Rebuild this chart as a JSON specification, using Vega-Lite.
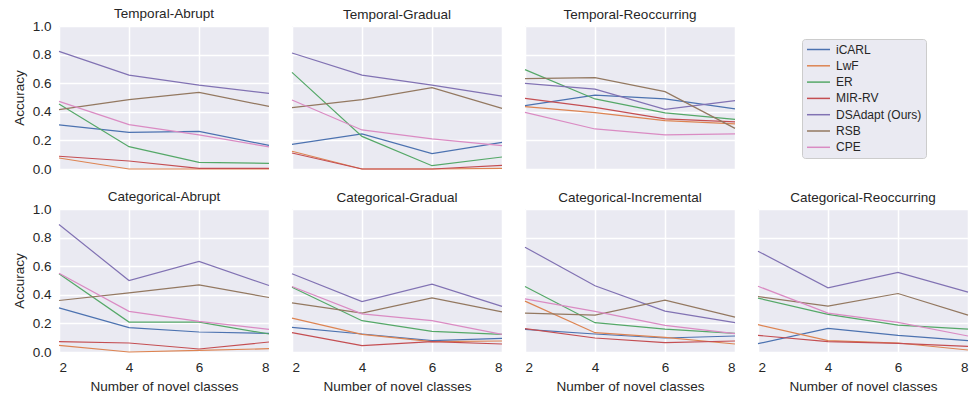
{
  "$schema": "https://vega.github.io/schema/vega-lite/v6.json",
  "padding": {"left": 12, "top": 6, "right": 0, "bottom": 5},
  "background": "white",
  "datasets": {
    "acc": [
      {"panel": "Temporal-Abrupt", "method": "iCARL", "x": 2, "acc": 0.308}, {"panel": "Temporal-Abrupt", "method": "iCARL", "x": 4, "acc": 0.256}, {"panel": "Temporal-Abrupt", "method": "iCARL", "x": 6, "acc": 0.263}, {"panel": "Temporal-Abrupt", "method": "iCARL", "x": 8, "acc": 0.165},
      {"panel": "Temporal-Abrupt", "method": "LwF", "x": 2, "acc": 0.077}, {"panel": "Temporal-Abrupt", "method": "LwF", "x": 4, "acc": 0.0}, {"panel": "Temporal-Abrupt", "method": "LwF", "x": 6, "acc": 0.0}, {"panel": "Temporal-Abrupt", "method": "LwF", "x": 8, "acc": 0.0},
      {"panel": "Temporal-Abrupt", "method": "ER", "x": 2, "acc": 0.455}, {"panel": "Temporal-Abrupt", "method": "ER", "x": 4, "acc": 0.156}, {"panel": "Temporal-Abrupt", "method": "ER", "x": 6, "acc": 0.047}, {"panel": "Temporal-Abrupt", "method": "ER", "x": 8, "acc": 0.04},
      {"panel": "Temporal-Abrupt", "method": "MIR-RV", "x": 2, "acc": 0.089}, {"panel": "Temporal-Abrupt", "method": "MIR-RV", "x": 4, "acc": 0.056}, {"panel": "Temporal-Abrupt", "method": "MIR-RV", "x": 6, "acc": 0.005}, {"panel": "Temporal-Abrupt", "method": "MIR-RV", "x": 8, "acc": 0.004},
      {"panel": "Temporal-Abrupt", "method": "DSAdapt (Ours)", "x": 2, "acc": 0.823}, {"panel": "Temporal-Abrupt", "method": "DSAdapt (Ours)", "x": 4, "acc": 0.657}, {"panel": "Temporal-Abrupt", "method": "DSAdapt (Ours)", "x": 6, "acc": 0.587}, {"panel": "Temporal-Abrupt", "method": "DSAdapt (Ours)", "x": 8, "acc": 0.529},
      {"panel": "Temporal-Abrupt", "method": "RSB", "x": 2, "acc": 0.415}, {"panel": "Temporal-Abrupt", "method": "RSB", "x": 4, "acc": 0.485}, {"panel": "Temporal-Abrupt", "method": "RSB", "x": 6, "acc": 0.536}, {"panel": "Temporal-Abrupt", "method": "RSB", "x": 8, "acc": 0.438},
      {"panel": "Temporal-Abrupt", "method": "CPE", "x": 2, "acc": 0.473}, {"panel": "Temporal-Abrupt", "method": "CPE", "x": 4, "acc": 0.31}, {"panel": "Temporal-Abrupt", "method": "CPE", "x": 6, "acc": 0.238}, {"panel": "Temporal-Abrupt", "method": "CPE", "x": 8, "acc": 0.155},

      {"panel": "Temporal-Gradual", "method": "iCARL", "x": 2, "acc": 0.172}, {"panel": "Temporal-Gradual", "method": "iCARL", "x": 4, "acc": 0.245}, {"panel": "Temporal-Gradual", "method": "iCARL", "x": 6, "acc": 0.107}, {"panel": "Temporal-Gradual", "method": "iCARL", "x": 8, "acc": 0.186},
      {"panel": "Temporal-Gradual", "method": "LwF", "x": 2, "acc": 0.124}, {"panel": "Temporal-Gradual", "method": "LwF", "x": 4, "acc": 0.0}, {"panel": "Temporal-Gradual", "method": "LwF", "x": 6, "acc": 0.0}, {"panel": "Temporal-Gradual", "method": "LwF", "x": 8, "acc": 0.005},
      {"panel": "Temporal-Gradual", "method": "ER", "x": 2, "acc": 0.676}, {"panel": "Temporal-Gradual", "method": "ER", "x": 4, "acc": 0.228}, {"panel": "Temporal-Gradual", "method": "ER", "x": 6, "acc": 0.023}, {"panel": "Temporal-Gradual", "method": "ER", "x": 8, "acc": 0.084},
      {"panel": "Temporal-Gradual", "method": "MIR-RV", "x": 2, "acc": 0.112}, {"panel": "Temporal-Gradual", "method": "MIR-RV", "x": 4, "acc": 0.0}, {"panel": "Temporal-Gradual", "method": "MIR-RV", "x": 6, "acc": 0.0}, {"panel": "Temporal-Gradual", "method": "MIR-RV", "x": 8, "acc": 0.026},
      {"panel": "Temporal-Gradual", "method": "DSAdapt (Ours)", "x": 2, "acc": 0.811}, {"panel": "Temporal-Gradual", "method": "DSAdapt (Ours)", "x": 4, "acc": 0.657}, {"panel": "Temporal-Gradual", "method": "DSAdapt (Ours)", "x": 6, "acc": 0.587}, {"panel": "Temporal-Gradual", "method": "DSAdapt (Ours)", "x": 8, "acc": 0.51},
      {"panel": "Temporal-Gradual", "method": "RSB", "x": 2, "acc": 0.429}, {"panel": "Temporal-Gradual", "method": "RSB", "x": 4, "acc": 0.485}, {"panel": "Temporal-Gradual", "method": "RSB", "x": 6, "acc": 0.569}, {"panel": "Temporal-Gradual", "method": "RSB", "x": 8, "acc": 0.424},
      {"panel": "Temporal-Gradual", "method": "CPE", "x": 2, "acc": 0.483}, {"panel": "Temporal-Gradual", "method": "CPE", "x": 4, "acc": 0.273}, {"panel": "Temporal-Gradual", "method": "CPE", "x": 6, "acc": 0.21}, {"panel": "Temporal-Gradual", "method": "CPE", "x": 8, "acc": 0.163},

      {"panel": "Temporal-Reoccurring", "method": "iCARL", "x": 2, "acc": 0.443}, {"panel": "Temporal-Reoccurring", "method": "iCARL", "x": 4, "acc": 0.517}, {"panel": "Temporal-Reoccurring", "method": "iCARL", "x": 6, "acc": 0.49}, {"panel": "Temporal-Reoccurring", "method": "iCARL", "x": 8, "acc": 0.42},
      {"panel": "Temporal-Reoccurring", "method": "LwF", "x": 2, "acc": 0.436}, {"panel": "Temporal-Reoccurring", "method": "LwF", "x": 4, "acc": 0.394}, {"panel": "Temporal-Reoccurring", "method": "LwF", "x": 6, "acc": 0.338}, {"panel": "Temporal-Reoccurring", "method": "LwF", "x": 8, "acc": 0.315},
      {"panel": "Temporal-Reoccurring", "method": "ER", "x": 2, "acc": 0.695}, {"panel": "Temporal-Reoccurring", "method": "ER", "x": 4, "acc": 0.49}, {"panel": "Temporal-Reoccurring", "method": "ER", "x": 6, "acc": 0.392}, {"panel": "Temporal-Reoccurring", "method": "ER", "x": 8, "acc": 0.347},
      {"panel": "Temporal-Reoccurring", "method": "MIR-RV", "x": 2, "acc": 0.494}, {"panel": "Temporal-Reoccurring", "method": "MIR-RV", "x": 4, "acc": 0.431}, {"panel": "Temporal-Reoccurring", "method": "MIR-RV", "x": 6, "acc": 0.35}, {"panel": "Temporal-Reoccurring", "method": "MIR-RV", "x": 8, "acc": 0.329},
      {"panel": "Temporal-Reoccurring", "method": "DSAdapt (Ours)", "x": 2, "acc": 0.599}, {"panel": "Temporal-Reoccurring", "method": "DSAdapt (Ours)", "x": 4, "acc": 0.559}, {"panel": "Temporal-Reoccurring", "method": "DSAdapt (Ours)", "x": 6, "acc": 0.417}, {"panel": "Temporal-Reoccurring", "method": "DSAdapt (Ours)", "x": 8, "acc": 0.478},
      {"panel": "Temporal-Reoccurring", "method": "RSB", "x": 2, "acc": 0.632}, {"panel": "Temporal-Reoccurring", "method": "RSB", "x": 4, "acc": 0.639}, {"panel": "Temporal-Reoccurring", "method": "RSB", "x": 6, "acc": 0.541}, {"panel": "Temporal-Reoccurring", "method": "RSB", "x": 8, "acc": 0.284},
      {"panel": "Temporal-Reoccurring", "method": "CPE", "x": 2, "acc": 0.396}, {"panel": "Temporal-Reoccurring", "method": "CPE", "x": 4, "acc": 0.28}, {"panel": "Temporal-Reoccurring", "method": "CPE", "x": 6, "acc": 0.238}, {"panel": "Temporal-Reoccurring", "method": "CPE", "x": 8, "acc": 0.245},

      {"panel": "Categorical-Abrupt", "method": "iCARL", "x": 2, "acc": 0.309}, {"panel": "Categorical-Abrupt", "method": "iCARL", "x": 4, "acc": 0.17}, {"panel": "Categorical-Abrupt", "method": "iCARL", "x": 6, "acc": 0.14}, {"panel": "Categorical-Abrupt", "method": "iCARL", "x": 8, "acc": 0.13},
      {"panel": "Categorical-Abrupt", "method": "LwF", "x": 2, "acc": 0.047}, {"panel": "Categorical-Abrupt", "method": "LwF", "x": 4, "acc": 0.0}, {"panel": "Categorical-Abrupt", "method": "LwF", "x": 6, "acc": 0.012}, {"panel": "Categorical-Abrupt", "method": "LwF", "x": 8, "acc": 0.023},
      {"panel": "Categorical-Abrupt", "method": "ER", "x": 2, "acc": 0.547}, {"panel": "Categorical-Abrupt", "method": "ER", "x": 4, "acc": 0.209}, {"panel": "Categorical-Abrupt", "method": "ER", "x": 6, "acc": 0.209}, {"panel": "Categorical-Abrupt", "method": "ER", "x": 8, "acc": 0.126},
      {"panel": "Categorical-Abrupt", "method": "MIR-RV", "x": 2, "acc": 0.072}, {"panel": "Categorical-Abrupt", "method": "MIR-RV", "x": 4, "acc": 0.063}, {"panel": "Categorical-Abrupt", "method": "MIR-RV", "x": 6, "acc": 0.021}, {"panel": "Categorical-Abrupt", "method": "MIR-RV", "x": 8, "acc": 0.07},
      {"panel": "Categorical-Abrupt", "method": "DSAdapt (Ours)", "x": 2, "acc": 0.891}, {"panel": "Categorical-Abrupt", "method": "DSAdapt (Ours)", "x": 4, "acc": 0.5}, {"panel": "Categorical-Abrupt", "method": "DSAdapt (Ours)", "x": 6, "acc": 0.633}, {"panel": "Categorical-Abrupt", "method": "DSAdapt (Ours)", "x": 8, "acc": 0.465},
      {"panel": "Categorical-Abrupt", "method": "RSB", "x": 2, "acc": 0.36}, {"panel": "Categorical-Abrupt", "method": "RSB", "x": 4, "acc": 0.414}, {"panel": "Categorical-Abrupt", "method": "RSB", "x": 6, "acc": 0.47}, {"panel": "Categorical-Abrupt", "method": "RSB", "x": 8, "acc": 0.381},
      {"panel": "Categorical-Abrupt", "method": "CPE", "x": 2, "acc": 0.551}, {"panel": "Categorical-Abrupt", "method": "CPE", "x": 4, "acc": 0.284}, {"panel": "Categorical-Abrupt", "method": "CPE", "x": 6, "acc": 0.214}, {"panel": "Categorical-Abrupt", "method": "CPE", "x": 8, "acc": 0.158},

      {"panel": "Categorical-Gradual", "method": "iCARL", "x": 2, "acc": 0.172}, {"panel": "Categorical-Gradual", "method": "iCARL", "x": 4, "acc": 0.126}, {"panel": "Categorical-Gradual", "method": "iCARL", "x": 6, "acc": 0.079}, {"panel": "Categorical-Gradual", "method": "iCARL", "x": 8, "acc": 0.095},
      {"panel": "Categorical-Gradual", "method": "LwF", "x": 2, "acc": 0.237}, {"panel": "Categorical-Gradual", "method": "LwF", "x": 4, "acc": 0.123}, {"panel": "Categorical-Gradual", "method": "LwF", "x": 6, "acc": 0.072}, {"panel": "Categorical-Gradual", "method": "LwF", "x": 8, "acc": 0.077},
      {"panel": "Categorical-Gradual", "method": "ER", "x": 2, "acc": 0.453}, {"panel": "Categorical-Gradual", "method": "ER", "x": 4, "acc": 0.219}, {"panel": "Categorical-Gradual", "method": "ER", "x": 6, "acc": 0.144}, {"panel": "Categorical-Gradual", "method": "ER", "x": 8, "acc": 0.123},
      {"panel": "Categorical-Gradual", "method": "MIR-RV", "x": 2, "acc": 0.135}, {"panel": "Categorical-Gradual", "method": "MIR-RV", "x": 4, "acc": 0.044}, {"panel": "Categorical-Gradual", "method": "MIR-RV", "x": 6, "acc": 0.072}, {"panel": "Categorical-Gradual", "method": "MIR-RV", "x": 8, "acc": 0.056},
      {"panel": "Categorical-Gradual", "method": "DSAdapt (Ours)", "x": 2, "acc": 0.547}, {"panel": "Categorical-Gradual", "method": "DSAdapt (Ours)", "x": 4, "acc": 0.353}, {"panel": "Categorical-Gradual", "method": "DSAdapt (Ours)", "x": 6, "acc": 0.474}, {"panel": "Categorical-Gradual", "method": "DSAdapt (Ours)", "x": 8, "acc": 0.319},
      {"panel": "Categorical-Gradual", "method": "RSB", "x": 2, "acc": 0.344}, {"panel": "Categorical-Gradual", "method": "RSB", "x": 4, "acc": 0.272}, {"panel": "Categorical-Gradual", "method": "RSB", "x": 6, "acc": 0.379}, {"panel": "Categorical-Gradual", "method": "RSB", "x": 8, "acc": 0.281},
      {"panel": "Categorical-Gradual", "method": "CPE", "x": 2, "acc": 0.458}, {"panel": "Categorical-Gradual", "method": "CPE", "x": 4, "acc": 0.267}, {"panel": "Categorical-Gradual", "method": "CPE", "x": 6, "acc": 0.219}, {"panel": "Categorical-Gradual", "method": "CPE", "x": 8, "acc": 0.123},

      {"panel": "Categorical-Incremental", "method": "iCARL", "x": 2, "acc": 0.158}, {"panel": "Categorical-Incremental", "method": "iCARL", "x": 4, "acc": 0.126}, {"panel": "Categorical-Incremental", "method": "iCARL", "x": 6, "acc": 0.098}, {"panel": "Categorical-Incremental", "method": "iCARL", "x": 8, "acc": 0.112},
      {"panel": "Categorical-Incremental", "method": "LwF", "x": 2, "acc": 0.356}, {"panel": "Categorical-Incremental", "method": "LwF", "x": 4, "acc": 0.135}, {"panel": "Categorical-Incremental", "method": "LwF", "x": 6, "acc": 0.102}, {"panel": "Categorical-Incremental", "method": "LwF", "x": 8, "acc": 0.056},
      {"panel": "Categorical-Incremental", "method": "ER", "x": 2, "acc": 0.458}, {"panel": "Categorical-Incremental", "method": "ER", "x": 4, "acc": 0.205}, {"panel": "Categorical-Incremental", "method": "ER", "x": 6, "acc": 0.16}, {"panel": "Categorical-Incremental", "method": "ER", "x": 8, "acc": 0.13},
      {"panel": "Categorical-Incremental", "method": "MIR-RV", "x": 2, "acc": 0.163}, {"panel": "Categorical-Incremental", "method": "MIR-RV", "x": 4, "acc": 0.098}, {"panel": "Categorical-Incremental", "method": "MIR-RV", "x": 6, "acc": 0.065}, {"panel": "Categorical-Incremental", "method": "MIR-RV", "x": 8, "acc": 0.077},
      {"panel": "Categorical-Incremental", "method": "DSAdapt (Ours)", "x": 2, "acc": 0.733}, {"panel": "Categorical-Incremental", "method": "DSAdapt (Ours)", "x": 4, "acc": 0.463}, {"panel": "Categorical-Incremental", "method": "DSAdapt (Ours)", "x": 6, "acc": 0.286}, {"panel": "Categorical-Incremental", "method": "DSAdapt (Ours)", "x": 8, "acc": 0.205},
      {"panel": "Categorical-Incremental", "method": "RSB", "x": 2, "acc": 0.272}, {"panel": "Categorical-Incremental", "method": "RSB", "x": 4, "acc": 0.258}, {"panel": "Categorical-Incremental", "method": "RSB", "x": 6, "acc": 0.363}, {"panel": "Categorical-Incremental", "method": "RSB", "x": 8, "acc": 0.244},
      {"panel": "Categorical-Incremental", "method": "CPE", "x": 2, "acc": 0.372}, {"panel": "Categorical-Incremental", "method": "CPE", "x": 4, "acc": 0.284}, {"panel": "Categorical-Incremental", "method": "CPE", "x": 6, "acc": 0.186}, {"panel": "Categorical-Incremental", "method": "CPE", "x": 8, "acc": 0.128},

      {"panel": "Categorical-Reoccurring", "method": "iCARL", "x": 2, "acc": 0.058}, {"panel": "Categorical-Reoccurring", "method": "iCARL", "x": 4, "acc": 0.165}, {"panel": "Categorical-Reoccurring", "method": "iCARL", "x": 6, "acc": 0.116}, {"panel": "Categorical-Reoccurring", "method": "iCARL", "x": 8, "acc": 0.079},
      {"panel": "Categorical-Reoccurring", "method": "LwF", "x": 2, "acc": 0.191}, {"panel": "Categorical-Reoccurring", "method": "LwF", "x": 4, "acc": 0.079}, {"panel": "Categorical-Reoccurring", "method": "LwF", "x": 6, "acc": 0.063}, {"panel": "Categorical-Reoccurring", "method": "LwF", "x": 8, "acc": 0.014},
      {"panel": "Categorical-Reoccurring", "method": "ER", "x": 2, "acc": 0.377}, {"panel": "Categorical-Reoccurring", "method": "ER", "x": 4, "acc": 0.263}, {"panel": "Categorical-Reoccurring", "method": "ER", "x": 6, "acc": 0.188}, {"panel": "Categorical-Reoccurring", "method": "ER", "x": 8, "acc": 0.16},
      {"panel": "Categorical-Reoccurring", "method": "MIR-RV", "x": 2, "acc": 0.116}, {"panel": "Categorical-Reoccurring", "method": "MIR-RV", "x": 4, "acc": 0.072}, {"panel": "Categorical-Reoccurring", "method": "MIR-RV", "x": 6, "acc": 0.06}, {"panel": "Categorical-Reoccurring", "method": "MIR-RV", "x": 8, "acc": 0.04},
      {"panel": "Categorical-Reoccurring", "method": "DSAdapt (Ours)", "x": 2, "acc": 0.705}, {"panel": "Categorical-Reoccurring", "method": "DSAdapt (Ours)", "x": 4, "acc": 0.449}, {"panel": "Categorical-Reoccurring", "method": "DSAdapt (Ours)", "x": 6, "acc": 0.556}, {"panel": "Categorical-Reoccurring", "method": "DSAdapt (Ours)", "x": 8, "acc": 0.419},
      {"panel": "Categorical-Reoccurring", "method": "RSB", "x": 2, "acc": 0.388}, {"panel": "Categorical-Reoccurring", "method": "RSB", "x": 4, "acc": 0.321}, {"panel": "Categorical-Reoccurring", "method": "RSB", "x": 6, "acc": 0.409}, {"panel": "Categorical-Reoccurring", "method": "RSB", "x": 8, "acc": 0.258},
      {"panel": "Categorical-Reoccurring", "method": "CPE", "x": 2, "acc": 0.46}, {"panel": "Categorical-Reoccurring", "method": "CPE", "x": 4, "acc": 0.272}, {"panel": "Categorical-Reoccurring", "method": "CPE", "x": 6, "acc": 0.207}, {"panel": "Categorical-Reoccurring", "method": "CPE", "x": 8, "acc": 0.112}
    ]
  },
  "data": {"name": "acc"},
  "bounds": "flush",
  "spacing": {"row": 40, "column": 23},
  "columns": 4,
  "resolve": {"scale": {"x": "independent", "y": "independent", "color": "shared"}},
  "concat": [
    {
      "title": {"text": "Temporal-Abrupt", "offset": -1}, "width": 210, "height": 143,
      "transform": [{"filter": "datum.panel === 'Temporal-Abrupt'"}],
      "mark": {"type": "line", "strokeWidth": 1.2},
      "encoding": {
        "x": {"field": "x", "type": "quantitative", "scale": {"domain": [2, 8], "nice": false, "zero": false}, "axis": {"values": [2, 4, 6, 8], "labels": false, "title": null}},
        "y": {"field": "acc", "type": "quantitative", "scale": {"domain": [0, 1], "nice": false}, "axis": {"values": [0, 0.2, 0.4, 0.6, 0.8, 1], "format": ".1f", "title": "Accuracy"}},
        "color": {"field": "method", "type": "nominal", "scale": {"domain": ["iCARL", "LwF", "ER", "MIR-RV", "DSAdapt (Ours)", "RSB", "CPE"], "range": ["#4C72B0", "#DD8452", "#55A868", "#C44E52", "#8172B3", "#937860", "#DA8BC3"]}, "legend": {"title": null}}
      }
    },
    {
      "title": {"text": "Temporal-Gradual", "offset": 5}, "width": 210, "height": 143,
      "transform": [{"filter": "datum.panel === 'Temporal-Gradual'"}],
      "mark": {"type": "line", "strokeWidth": 1.2},
      "encoding": {
        "x": {"field": "x", "type": "quantitative", "scale": {"domain": [2, 8], "nice": false, "zero": false}, "axis": {"values": [2, 4, 6, 8], "labels": false, "title": null}},
        "y": {"field": "acc", "type": "quantitative", "scale": {"domain": [0, 1], "nice": false}, "axis": {"values": [0, 0.2, 0.4, 0.6, 0.8, 1], "labels": false, "title": null}},
        "color": {"field": "method", "type": "nominal", "scale": {"domain": ["iCARL", "LwF", "ER", "MIR-RV", "DSAdapt (Ours)", "RSB", "CPE"], "range": ["#4C72B0", "#DD8452", "#55A868", "#C44E52", "#8172B3", "#937860", "#DA8BC3"]}, "legend": {"title": null}}
      }
    },
    {
      "title": {"text": "Temporal-Reoccurring", "offset": 5}, "width": 210, "height": 143,
      "transform": [{"filter": "datum.panel === 'Temporal-Reoccurring'"}],
      "mark": {"type": "line", "strokeWidth": 1.2},
      "encoding": {
        "x": {"field": "x", "type": "quantitative", "scale": {"domain": [2, 8], "nice": false, "zero": false}, "axis": {"values": [2, 4, 6, 8], "labels": false, "title": null}},
        "y": {"field": "acc", "type": "quantitative", "scale": {"domain": [0, 1], "nice": false}, "axis": {"values": [0, 0.2, 0.4, 0.6, 0.8, 1], "labels": false, "title": null}},
        "color": {"field": "method", "type": "nominal", "scale": {"domain": ["iCARL", "LwF", "ER", "MIR-RV", "DSAdapt (Ours)", "RSB", "CPE"], "range": ["#4C72B0", "#DD8452", "#55A868", "#C44E52", "#8172B3", "#937860", "#DA8BC3"]}, "legend": {"title": null}}
      }
    },
    {
      "width": 210, "height": 143,
      "view": {"fill": null, "stroke": null},
      "transform": [{"filter": "datum.panel === 'none'"}],
      "mark": {"type": "line", "strokeWidth": 1.2},
      "encoding": {
        "x": {"field": "x", "type": "quantitative", "scale": {"domain": [2, 8]}, "axis": null},
        "y": {"field": "acc", "type": "quantitative", "scale": {"domain": [0, 1]}, "axis": null},
        "color": {"field": "method", "type": "nominal", "scale": {"domain": ["iCARL", "LwF", "ER", "MIR-RV", "DSAdapt (Ours)", "RSB", "CPE"], "range": ["#4C72B0", "#DD8452", "#55A868", "#C44E52", "#8172B3", "#937860", "#DA8BC3"]}, "legend": {"title": null}}
      }
    },
    {
      "title": {"text": "Categorical-Abrupt", "offset": -1}, "width": 210, "height": 143,
      "transform": [{"filter": "datum.panel === 'Categorical-Abrupt'"}],
      "mark": {"type": "line", "strokeWidth": 1.2},
      "encoding": {
        "x": {"field": "x", "type": "quantitative", "scale": {"domain": [2, 8], "nice": false, "zero": false}, "axis": {"values": [2, 4, 6, 8], "title": "Number of novel classes"}},
        "y": {"field": "acc", "type": "quantitative", "scale": {"domain": [0, 1], "nice": false}, "axis": {"values": [0, 0.2, 0.4, 0.6, 0.8, 1], "format": ".1f", "title": "Accuracy"}},
        "color": {"field": "method", "type": "nominal", "scale": {"domain": ["iCARL", "LwF", "ER", "MIR-RV", "DSAdapt (Ours)", "RSB", "CPE"], "range": ["#4C72B0", "#DD8452", "#55A868", "#C44E52", "#8172B3", "#937860", "#DA8BC3"]}, "legend": {"title": null}}
      }
    },
    {
      "title": {"text": "Categorical-Gradual", "offset": 5}, "width": 210, "height": 143,
      "transform": [{"filter": "datum.panel === 'Categorical-Gradual'"}],
      "mark": {"type": "line", "strokeWidth": 1.2},
      "encoding": {
        "x": {"field": "x", "type": "quantitative", "scale": {"domain": [2, 8], "nice": false, "zero": false}, "axis": {"values": [2, 4, 6, 8], "title": "Number of novel classes"}},
        "y": {"field": "acc", "type": "quantitative", "scale": {"domain": [0, 1], "nice": false}, "axis": {"values": [0, 0.2, 0.4, 0.6, 0.8, 1], "labels": false, "title": null}},
        "color": {"field": "method", "type": "nominal", "scale": {"domain": ["iCARL", "LwF", "ER", "MIR-RV", "DSAdapt (Ours)", "RSB", "CPE"], "range": ["#4C72B0", "#DD8452", "#55A868", "#C44E52", "#8172B3", "#937860", "#DA8BC3"]}, "legend": {"title": null}}
      }
    },
    {
      "title": {"text": "Categorical-Incremental", "offset": 5}, "width": 210, "height": 143,
      "transform": [{"filter": "datum.panel === 'Categorical-Incremental'"}],
      "mark": {"type": "line", "strokeWidth": 1.2},
      "encoding": {
        "x": {"field": "x", "type": "quantitative", "scale": {"domain": [2, 8], "nice": false, "zero": false}, "axis": {"values": [2, 4, 6, 8], "title": "Number of novel classes"}},
        "y": {"field": "acc", "type": "quantitative", "scale": {"domain": [0, 1], "nice": false}, "axis": {"values": [0, 0.2, 0.4, 0.6, 0.8, 1], "labels": false, "title": null}},
        "color": {"field": "method", "type": "nominal", "scale": {"domain": ["iCARL", "LwF", "ER", "MIR-RV", "DSAdapt (Ours)", "RSB", "CPE"], "range": ["#4C72B0", "#DD8452", "#55A868", "#C44E52", "#8172B3", "#937860", "#DA8BC3"]}, "legend": {"title": null}}
      }
    },
    {
      "title": {"text": "Categorical-Reoccurring", "offset": 5}, "width": 210, "height": 143,
      "transform": [{"filter": "datum.panel === 'Categorical-Reoccurring'"}],
      "mark": {"type": "line", "strokeWidth": 1.2},
      "encoding": {
        "x": {"field": "x", "type": "quantitative", "scale": {"domain": [2, 8], "nice": false, "zero": false}, "axis": {"values": [2, 4, 6, 8], "title": "Number of novel classes"}},
        "y": {"field": "acc", "type": "quantitative", "scale": {"domain": [0, 1], "nice": false}, "axis": {"values": [0, 0.2, 0.4, 0.6, 0.8, 1], "labels": false, "title": null}},
        "color": {"field": "method", "type": "nominal", "scale": {"domain": ["iCARL", "LwF", "ER", "MIR-RV", "DSAdapt (Ours)", "RSB", "CPE"], "range": ["#4C72B0", "#DD8452", "#55A868", "#C44E52", "#8172B3", "#937860", "#DA8BC3"]}, "legend": {"title": null}}
      }
    }
  ],
  "config": {
    "font": "Liberation Sans",
    "view": {"fill": "#EAEAF2", "stroke": null},
    "axis": {
      "grid": true, "gridColor": "#FFFFFF", "gridWidth": 1.5, "gridOpacity": 1,
      "domain": false, "ticks": false, "tickSize": 0,
      "labelFont": "Liberation Sans", "labelFontSize": 13.5, "labelColor": "#262626", "labelPadding": 8,
      "titleFont": "Liberation Sans", "titleFontSize": 13.5, "titleFontWeight": "normal", "titleColor": "#262626", "titlePadding": 6
    },
    "title": {"font": "Liberation Sans", "fontSize": 13.5, "fontWeight": "normal", "color": "#262626", "frame": "group"},
    "legend": {
      "orient": "none", "legendX": 743, "legendY": 13,
      "fillColor": "#EAEAF2", "strokeColor": "#CCCCCC", "cornerRadius": 3, "padding": 4,
      "symbolType": "M-2,0H2", "symbolSize": 132, "symbolStrokeWidth": 1.5, "symbolOffset": 6,
      "labelFont": "Liberation Sans", "labelFontSize": 12, "labelColor": "#262626", "labelOffset": 11, "rowPadding": 3.3
    }
  }
}
